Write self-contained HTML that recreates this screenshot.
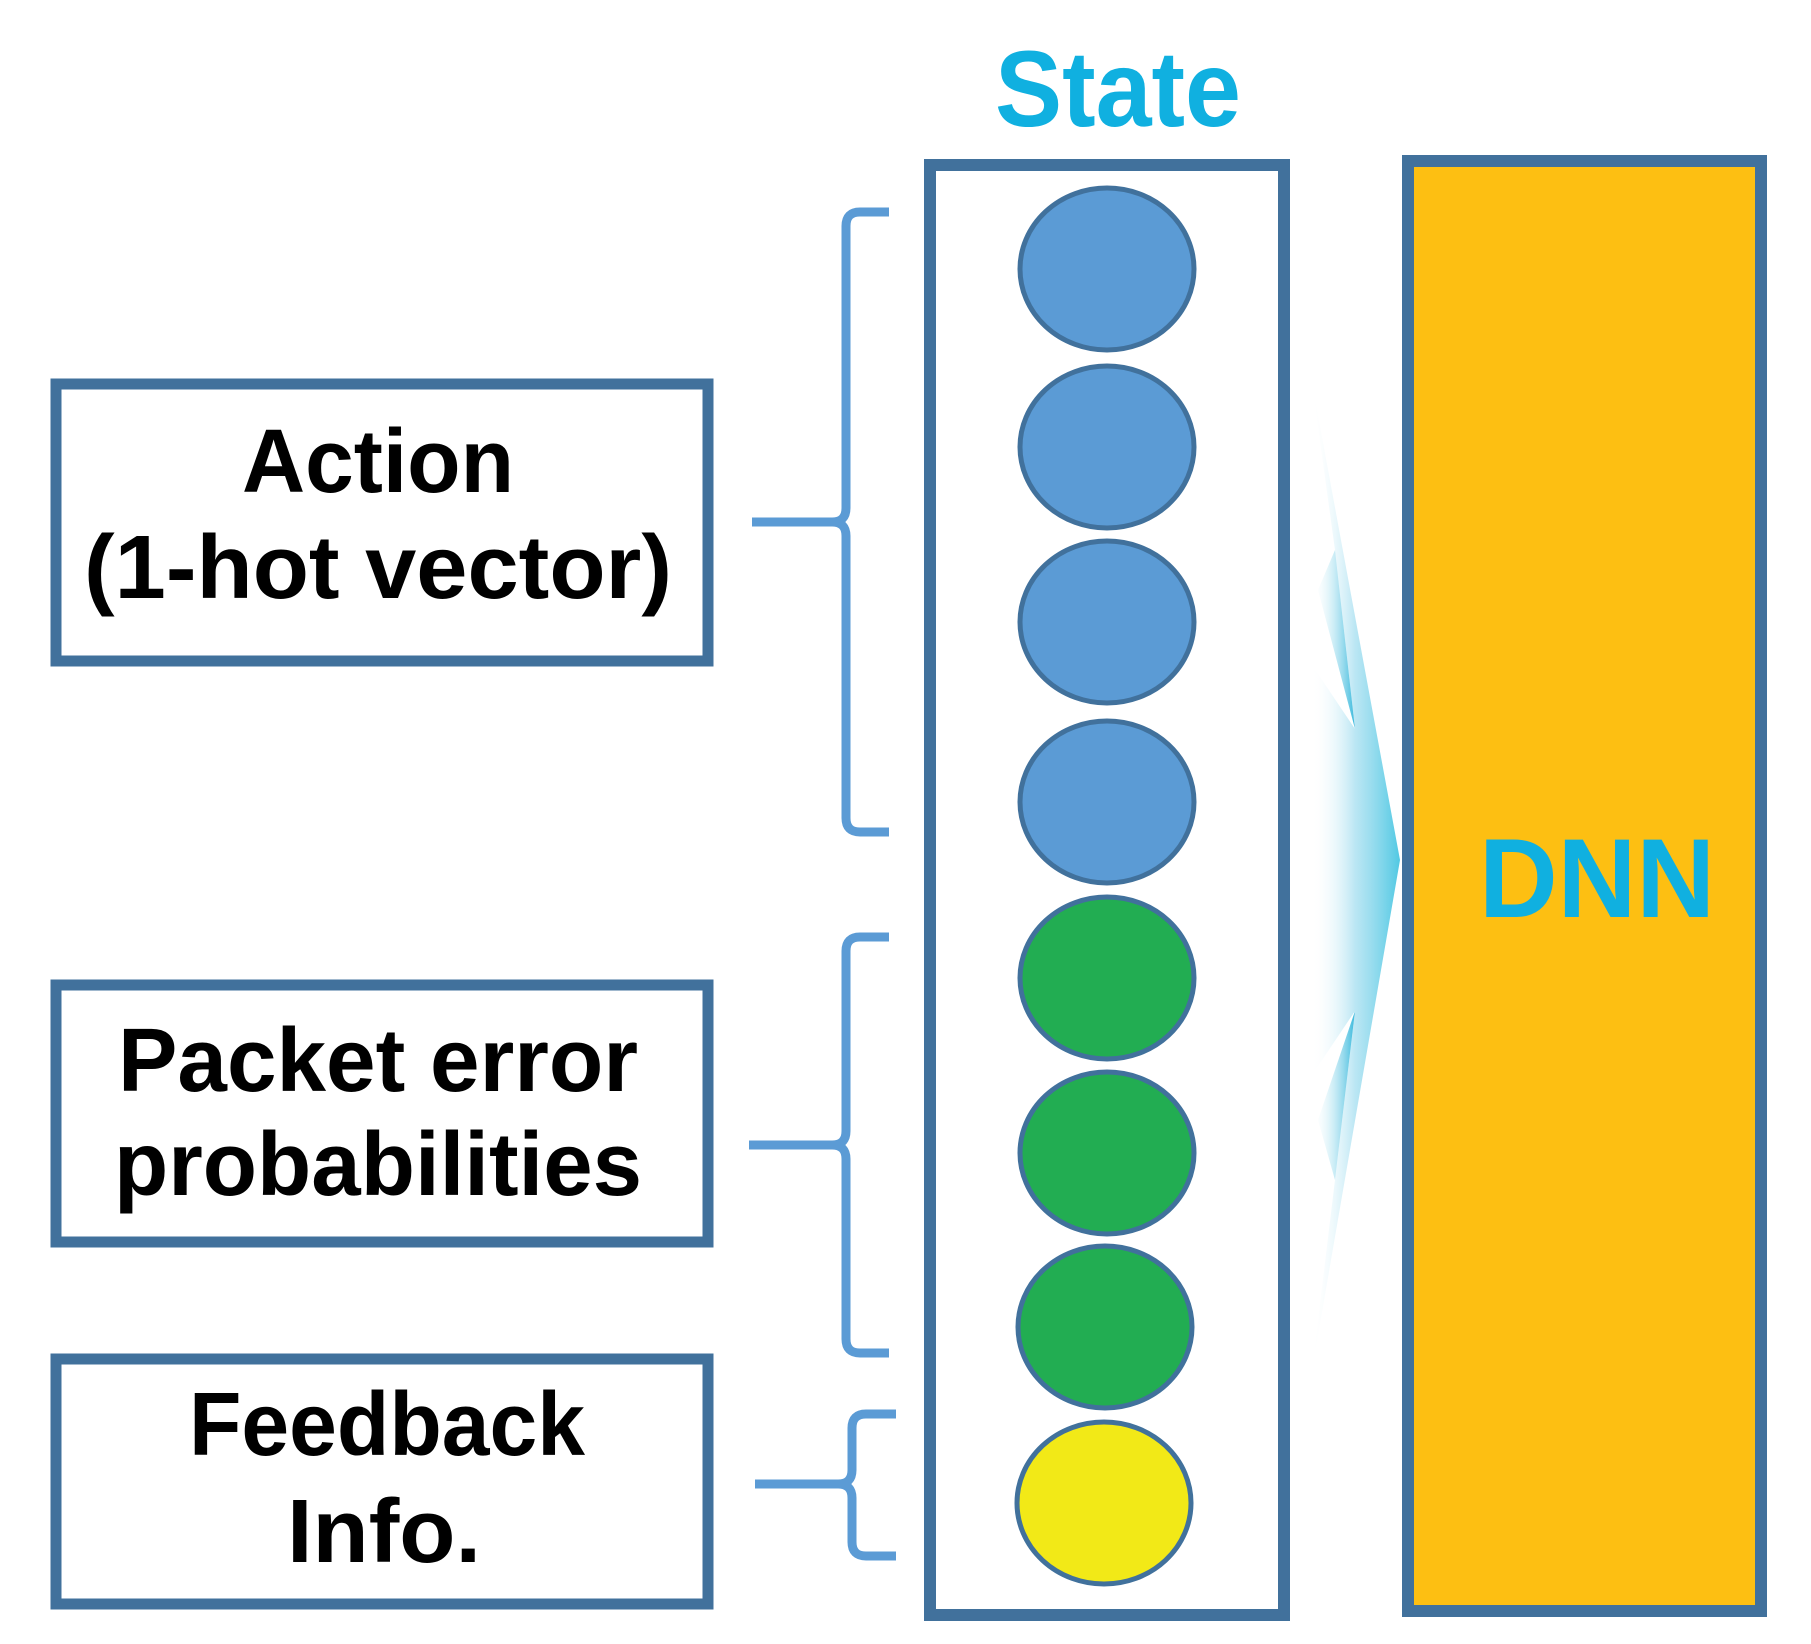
<!DOCTYPE html>
<html><head><meta charset="utf-8"><style>html,body{margin:0;padding:0;background:#fff}svg{display:block}</style></head>
<body>
<svg width="1811" height="1644" viewBox="0 0 1811 1644" xmlns="http://www.w3.org/2000/svg">
<defs>
<linearGradient id="g" x1="1312" y1="0" x2="1407" y2="0" gradientUnits="userSpaceOnUse">
<stop offset="0" stop-color="#ffffff" stop-opacity="0"/>
<stop offset="0.45" stop-color="#9fdcef" stop-opacity="0.7"/>
<stop offset="1" stop-color="#3cc3e0"/>
</linearGradient>
<linearGradient id="g2" x1="1312" y1="0" x2="1360" y2="0" gradientUnits="userSpaceOnUse">
<stop offset="0" stop-color="#ffffff" stop-opacity="0"/>
<stop offset="1" stop-color="#0aa8d4"/>
</linearGradient>
</defs>
<text x="1118" y="126" font-family="Liberation Sans, sans-serif" font-weight="bold" text-anchor="middle" font-size="108" fill="#10b0e0" textLength="246" lengthAdjust="spacingAndGlyphs">State</text>
<rect x="930" y="165" width="354" height="1450" fill="#fff" stroke="#41719C" stroke-width="12"/>
<rect x="1408" y="161" width="353" height="1450" fill="#FDBF12" stroke="#41719C" stroke-width="12"/>
<text x="1597" y="917" font-family="Liberation Sans, sans-serif" font-weight="bold" font-size="112" fill="#10b0e0" text-anchor="middle" textLength="236" lengthAdjust="spacingAndGlyphs">DNN</text>
<polygon points="1312,383 1400,860 1312,1370 1335,1180 1355,1011 1312,1075 1312,665 1355,729 1335,550" fill="url(#g)"/>
<polygon points="1318,590 1355,729 1335,550" fill="url(#g2)"/>
<polygon points="1318,1120 1355,1011 1335,1180" fill="url(#g2)"/>
<g stroke="#41719C" stroke-width="5">
<ellipse cx="1107" cy="269" rx="87" ry="81" fill="#5B9BD5"/>
<ellipse cx="1107" cy="447" rx="87" ry="81" fill="#5B9BD5"/>
<ellipse cx="1107" cy="622" rx="87" ry="81" fill="#5B9BD5"/>
<ellipse cx="1107" cy="802" rx="87" ry="81" fill="#5B9BD5"/>
<ellipse cx="1107" cy="978" rx="87" ry="81" fill="#22AD52"/>
<ellipse cx="1107" cy="1153" rx="87" ry="81" fill="#22AD52"/>
<ellipse cx="1105" cy="1327" rx="87" ry="81" fill="#22AD52"/>
<ellipse cx="1104" cy="1503" rx="87" ry="81" fill="#F2E917"/>
</g>
<g fill="#fff" stroke="#41719C" stroke-width="11">
<rect x="56" y="384" width="652" height="277"/>
<rect x="56" y="985" width="652" height="257"/>
<rect x="56" y="1359" width="652" height="245"/>
</g>
<g font-family="Liberation Sans, sans-serif" font-weight="bold" font-size="90" fill="#000" text-anchor="middle">
<text x="378" y="492" textLength="272" lengthAdjust="spacingAndGlyphs">Action</text>
<text x="378" y="598" textLength="588" lengthAdjust="spacingAndGlyphs">(1-hot vector)</text>
<text x="378" y="1091" textLength="520" lengthAdjust="spacingAndGlyphs">Packet error</text>
<text x="378" y="1195" textLength="528" lengthAdjust="spacingAndGlyphs">probabilities</text>
<text x="387" y="1455" textLength="396" lengthAdjust="spacingAndGlyphs">Feedback</text>
<text x="384" y="1562" textLength="194" lengthAdjust="spacingAndGlyphs">Info.</text>
</g>
<g fill="none" stroke="#5B9BD5" stroke-width="9">
<path d="M889,212 L860,212 Q846,212 846,226 L846,508 Q846,522 832,522 L752,522 M832,522 Q846,522 846,536 L846,818 Q846,832 860,832 L889,832"/>
<path d="M889,937 L860,937 Q846,937 846,951 L846,1131 Q846,1145 832,1145 L749,1145 M832,1145 Q846,1145 846,1159 L846,1339 Q846,1353 860,1353 L889,1353"/>
<path d="M896,1414 L866,1414 Q852,1414 852,1428 L852,1470 Q852,1484 838,1484 L755,1484 M838,1484 Q852,1484 852,1498 L852,1542 Q852,1556 866,1556 L896,1556"/>
</g>
</svg>
</body></html>
